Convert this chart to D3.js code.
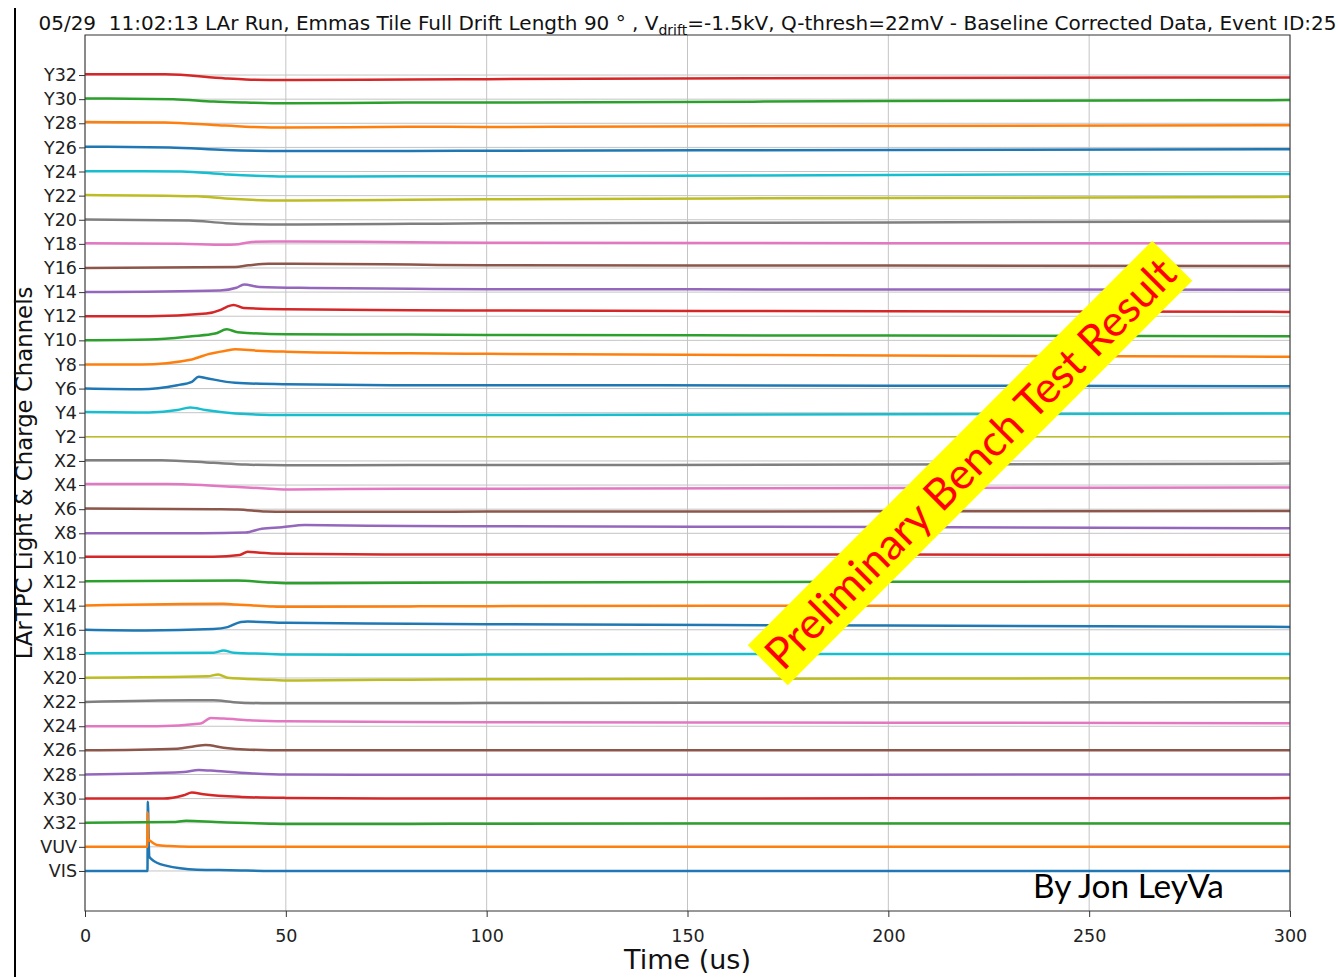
<!DOCTYPE html>
<html>
<head>
<meta charset="utf-8">
<script src="https://cdn.jsdelivr.net/npm/d3@7"></script>
<style>
  body { margin: 0; background: #fff; }
  text { font-family: "DejaVu Sans", sans-serif; }
</style>
</head>
<body>
<script>
// channel names, bottom to top
var channels = ['VIS', 'VUV', 'X32', 'X30', 'X28', 'X26', 'X24', 'X22', 'X20', 'X18',
                'X16', 'X14', 'X12', 'X10', 'X8', 'X6', 'X4', 'X2', 'Y2', 'Y4',
                'Y6', 'Y8', 'Y10', 'Y12', 'Y14', 'Y16', 'Y18', 'Y20', 'Y22', 'Y24',
                'Y26', 'Y28', 'Y30', 'Y32'];
var timeTicks = [0, 50, 100, 150, 200, 250, 300];
var channelOffset = 100; // mV between stacked channels

// waveform samples: [time (us), baseline corrected mV]
var VIS = [[0, 0], [15.55, 0], [15.65, 287], [15.9, 95], [16.0, 60], [16.6, 48], [17.9, 34], [20.4, 21], [23.7, 11], [27.9, 5], [36, 3], [50, 0], [300, 0]];
var VUV = [[0, 0], [15.5, 0], [15.6, 143], [15.75, 30], [16.2, 25], [17.9, 8], [21, 3], [26, 0], [300, 0]];
var X32 = [[0, 0], [21.8, 3], [25.2, 8], [32.5, 3], [46, -4], [50, -5], [81, -5], [100, -4], [200, -3], [300, -3]];
var X30 = [[0, 0], [19.5, 0], [24.6, 14], [26.6, 25], [29.5, 18], [39, 7], [50, 3], [81, 0], [200, 1], [300, 2]];
var X28 = [[0, 0], [24.6, 10], [28.3, 19], [32.8, 14], [41, 5], [50, 0], [81, -1], [300, 0]];
var X26 = [[0, 0], [23, 7], [27.3, 17], [30, 22], [34.5, 11], [41, 3], [50, 0], [81, 1], [300, 1]];
var X24 = [[0, 0], [18, 0], [28.8, 11], [31.3, 34], [34.6, 32], [41, 25], [50, 21], [81, 18], [100, 17], [200, 15], [300, 12]];
var X22 = [[0, 1], [26.4, 8], [32, 8], [37, 0], [46, -5], [81, -5], [100, -4], [200, -2], [300, 0]];
var X20 = [[0, 1], [30.5, 7], [33.2, 15], [35.5, 1], [46, -7], [50, -10], [81, -7], [100, -5], [200, -2], [300, -1]];
var X18 = [[0, 3], [32, 5], [34.5, 14], [37, 5], [46, 0], [50, -3], [81, -4], [100, -3], [200, 0], [300, 0]];
var X16 = [[0, 0], [15, -3], [32, 3], [35.5, 11], [38.8, 32], [40.5, 34], [50, 29], [81, 25], [100, 23], [200, 18], [300, 12]];
var X14 = [[0, 1], [34.5, 8], [37.5, 5], [46, -3], [50, -5], [81, -3], [100, -2], [200, 0], [300, 0]];
var X12 = [[0, 1], [38, 4], [45, -3], [50, -7], [81, -5], [100, -4], [200, -1], [300, 0]];
var X10 = [[0, 3], [32, 3], [38.5, 10], [40.5, 24], [43.5, 19], [50, 15], [81, 12], [100, 12], [200, 12], [300, 10]];
var X8 = [[0, 0], [29, 0], [40, 3], [44, 19], [49, 25], [54.7, 34], [81, 30], [100, 29], [200, 26], [300, 21]];
var X6 = [[0, 3], [32, 0], [38, -1], [45, -10], [50, -11], [81, -11], [100, -10], [200, -9], [300, -8]];
var X4 = [[0, 4], [20.5, 4], [37, -7], [46, -15], [50, -18], [81, -15], [100, -15], [200, -12], [300, -10]];
var X2 = [[0, 3], [19, 3], [32, -8], [40, -15], [50, -18], [81, -17], [100, -17], [200, -15], [300, -11]];
var Y2 = [[0, 0], [300, 0]];
var Y4 = [[0, 3], [16, 1], [23, 11], [26.2, 22], [30, 11], [37.4, -3], [50, -10], [81, -10], [100, -10], [200, -6], [300, -3]];
var Y6 = [[0, 0], [14, -3], [23, 14], [26.6, 28], [28.3, 49], [30, 44], [37.4, 24], [50, 18], [81, 14], [100, 14], [200, 12], [300, 10]];
var Y8 = [[0, 0], [14, 0], [26.6, 21], [30.7, 43], [35, 57], [37.4, 63], [43, 57], [50, 53], [81, 46], [100, 44], [200, 37], [300, 32]];
var Y10 = [[0, 0], [16, 3], [26.6, 17], [32.4, 28], [35.3, 46], [38, 34], [50, 25], [81, 24], [100, 22], [200, 20], [300, 17]];
var Y12 = [[0, 0], [16, 0], [30.2, 11], [33.6, 25], [35.3, 39], [37, 47], [39.5, 34], [50, 29], [81, 25], [100, 24], [200, 21], [300, 18]];
var Y14 = [[0, 0], [33.6, 7], [37.7, 18], [39.6, 32], [43.5, 21], [56.8, 17], [81, 14], [100, 12], [200, 11], [300, 10]];
var Y16 = [[0, 0], [37.4, 4], [40.7, 11], [45.6, 18], [50, 18], [81, 14], [100, 11], [200, 10], [300, 8]];
var Y18 = [[0, 3], [24, 0], [35, -4], [37.4, -3], [41.5, 8], [47, 10], [81, 7], [100, 5], [200, 3], [300, 3]];
var Y20 = [[0, 1], [26, -3], [35, -14], [50, -20], [81, -17], [100, -15], [200, -11], [300, -7]];
var Y22 = [[0, 3], [28, -3], [35, -12], [50, -20], [81, -17], [100, -15], [200, -10], [300, -5]];
var Y24 = [[0, 1], [24, 0], [35, -12], [50, -21], [81, -20], [100, -20], [200, -14], [300, -10]];
var Y26 = [[0, 3], [21, 0], [35, -11], [50, -15], [81, -15], [100, -14], [200, -11], [300, -8]];
var Y28 = [[0, 5], [20, 3], [32, -7], [40, -14], [50, -18], [81, -14], [100, -15], [200, -11], [300, -8]];
var Y30 = [[0, 3], [22, 0], [32, -10], [40, -14], [50, -17], [81, -14], [100, -14], [200, -8], [300, -4]];
var Y32 = [[0, 3], [20, 3], [35, -14], [40, -18], [50, -21], [81, -18], [100, -17], [200, -12], [300, -10]];

var waveforms = [VIS, VUV, X32, X30, X28, X26, X24, X22, X20, X18,
                 X16, X14, X12, X10, X8, X6, X4, X2, Y2, Y4,
                 Y6, Y8, Y10, Y12, Y14, Y16, Y18, Y20, Y22, Y24,
                 Y26, Y28, Y30, Y32];

var width = 1338;
var height = 977;
var margin = { left: 85, right: 48, top: 35, bottom: 66 };
var colors = ['#1f77b4', '#ff7f0e', '#2ca02c', '#d62728', '#9467bd',
              '#8c564b', '#e377c2', '#7f7f7f', '#bcbd22', '#17becf'];

var svg = d3.select('body')
            .append('svg')
            .attr('width', width)
            .attr('height', height);

var xScale = d3.scaleLinear()
               .domain([0, 300])
               .range([margin.left, width - margin.right]);

var pad = 1.66 * channelOffset;
var yScale = d3.scaleLinear()
               .domain([-pad, (channels.length - 1) * channelOffset + pad])
               .range([height - margin.bottom, margin.top]);

// stray slide border on the left
svg.append('line')
   .attr('x1', 15).attr('x2', 15)
   .attr('y1', 8).attr('y2', height)
   .attr('stroke', '#000')
   .attr('stroke-width', 2);

// grid
var grid = svg.append('g').attr('stroke', '#c4c4c4').attr('stroke-width', 1);
grid.selectAll('.vgrid')
    .data(timeTicks)
    .enter()
    .append('line')
    .attr('x1', function (d) { return xScale(d); })
    .attr('x2', function (d) { return xScale(d); })
    .attr('y1', margin.top)
    .attr('y2', height - margin.bottom);
grid.selectAll('.hgrid')
    .data(channels)
    .enter()
    .append('line')
    .attr('x1', margin.left)
    .attr('x2', width - margin.right)
    .attr('y1', function (d, i) { return yScale(i * channelOffset); })
    .attr('y2', function (d, i) { return yScale(i * channelOffset); });

// traces
var line = d3.line()
             .curve(d3.curveMonotoneX);

svg.append('g')
   .selectAll('path')
   .data(waveforms)
   .enter()
   .append('path')
   .attr('fill', 'none')
   .attr('stroke', function (d, i) { return colors[i % 10]; })
   .attr('stroke-width', function (d) { return d.length > 2 ? 2.5 : 1.6; })
   .attr('stroke-linejoin', 'round')
   .attr('d', function (d, i) {
       return line(d.map(function (p) {
           return [xScale(p[0]), yScale(i * channelOffset + p[1])];
       }));
   });

// axes
var xAxis = d3.axisBottom(xScale)
              .tickValues(timeTicks)
              .tickSize(6)
              .tickPadding(13);
var yAxis = d3.axisLeft(yScale)
              .tickValues(d3.range(channels.length).map(function (i) { return i * channelOffset; }))
              .tickFormat(function (d, i) { return channels[i]; })
              .tickSize(6)
              .tickPadding(2);

var gx = svg.append('g')
            .attr('transform', 'translate(0,' + (height - margin.bottom) + ')')
            .call(xAxis);
var gy = svg.append('g')
            .attr('transform', 'translate(' + margin.left + ',0)')
            .call(yAxis);
[gx, gy].forEach(function (g) {
    g.select('.domain').remove();
    g.selectAll('.tick line').attr('stroke', '#333');
    g.selectAll('.tick text')
     .attr('fill', '#222')
     .style('font-family', 'DejaVu Sans')
     .style('font-size', '17.5px');
});

svg.append('rect')
   .attr('x', margin.left)
   .attr('y', margin.top)
   .attr('width', width - margin.left - margin.right)
   .attr('height', height - margin.top - margin.bottom)
   .attr('fill', 'none')
   .attr('stroke', '#333')
   .attr('stroke-width', 1);

// title
var title = svg.append('text')
               .attr('x', (margin.left + width - margin.right) / 2)
               .attr('y', 30)
               .attr('text-anchor', 'middle')
               .attr('xml:space', 'preserve')
               .attr('fill', '#111')
               .style('font-size', '20px');
title.append('tspan').text('05/29  11:02:13 LAr Run, Emmas Tile Full Drift Length 90 ° , V');
title.append('tspan').attr('dy', 5).style('font-size', '14px').text('drift');
title.append('tspan').attr('dy', -5).text('=-1.5kV, Q-thresh=22mV - Baseline Corrected Data, Event ID:25');

// axis labels
svg.append('text')
   .attr('x', (margin.left + width - margin.right) / 2)
   .attr('y', 969)
   .attr('text-anchor', 'middle')
   .attr('fill', '#111')
   .style('font-size', '27px')
   .text('Time (us)');

svg.append('text')
   .attr('transform', 'translate(32,' + ((margin.top + height - margin.bottom) / 2) + ') rotate(-90)')
   .attr('text-anchor', 'middle')
   .attr('fill', '#111')
   .style('font-size', '22.8px')
   .text('LArTPC Light & Charge Channels');

// watermark band
var band = svg.append('g')
              .attr('transform', 'translate(970,463) rotate(-45)');
band.append('rect')
    .attr('x', -286).attr('y', -28.3)
    .attr('width', 572).attr('height', 56.6)
    .attr('fill', '#ffff00');
var mark = band.append('text')
               .attr('text-anchor', 'middle')
               .attr('dy', '0.36em')
               .attr('fill', '#ff0000')
               .style('font-family', 'Lato')
               .style('font-size', '40px')
               .text('Preliminary Bench Test Result');
var mw = mark.node().getComputedTextLength();
mark.style('font-size', (40 * 560 / mw) + 'px');

var credit = svg.append('text')
                .attr('x', 1033)
                .attr('y', 898)
                .attr('fill', '#000')
                .style('font-family', 'Lato')
                .style('font-size', '32px')
                .text('By Jon LeyVa');
var cw = credit.node().getComputedTextLength();
credit.style('font-size', (32 * 191 / cw) + 'px');
</script>
</body>
</html>
